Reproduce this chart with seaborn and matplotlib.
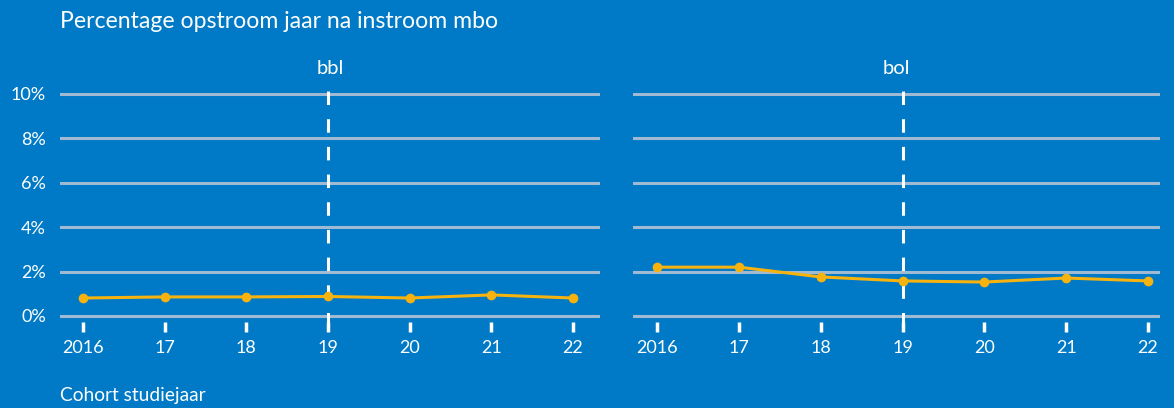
import matplotlib
matplotlib.use("Agg")
import matplotlib.pyplot as plt
import seaborn as sns
import pandas as pd

years = [2016, 2017, 2018, 2019, 2020, 2021, 2022]
year_labels = ["2016", "17", "18", "19", "20", "21", "22"]
bbl = [0.81, 0.86, 0.86, 0.88, 0.81, 0.95, 0.81]
bol = [2.20, 2.20, 1.76, 1.58, 1.53, 1.71, 1.58]
panels = ["bbl", "bol"]
yticks = [0, 2, 4, 6, 8, 10]
ytick_labels = ["0%", "2%", "4%", "6%", "8%", "10%"]
marker_year = 2019

BG = "#007AC6"
LINE = "#F6B20F"
GRID = "#A0BAD3"
FONT = "Lato"

sns.set_theme(style="white")
plt.rcParams["font.family"] = [FONT, "DejaVu Sans"]

W, H = 1174, 408
fig = plt.figure(figsize=(W / 100, H / 100), dpi=100, facecolor=BG)

def px_axes(x0, x1, y_top, y_bot):
    return [x0 / W, 1 - y_bot / H, (x1 - x0) / W, (y_bot - y_top) / H]

ppu = (316 - 94) / 10.0
ybot = -(322 - 316) / ppu
ytop = 10 + 1.5 / ppu
dash_lo = (316 - 326) / ppu
dash_hi = (316 - 90.7) / ppu

specs = [
    (bbl, px_axes(60, 600, 94 - 1.5, 322), 2016 - 23 / 81.67, 2022 + 27 / 81.67),
    (bol, px_axes(633, 1160, 94 - 1.5, 322), 2016 - 24 / 81.83, 2022 + 12 / 81.83),
]

for i, (vals, rect, xl, xr) in enumerate(specs):
    ax = fig.add_axes(rect)
    ax.set_facecolor(BG)
    df = pd.DataFrame({"jaar": years, "pct": vals})
    for yv in yticks:
        ax.axhline(yv, color=GRID, lw=2.2, zorder=1)
    ax.plot([marker_year, marker_year], [dash_lo, dash_hi], color="white",
            lw=2.2, ls=(0, (4.42, 4.64)), zorder=2, clip_on=False,
            solid_capstyle="butt", dash_capstyle="butt")
    sns.lineplot(data=df, x="jaar", y="pct", ax=ax, color=LINE, lw=2.2,
                 marker="o", markersize=7, markeredgewidth=0, zorder=3)
    ax.set_xlim(xl, xr)
    ax.set_ylim(ybot, ytop)
    for s in ax.spines.values():
        s.set_visible(False)
    ax.set_xticks(years)
    ax.set_xticklabels(year_labels)
    ax.tick_params(axis="x", colors="white", length=7, width=2.5, pad=6,
                   labelsize=13, direction="out", bottom=True)
    ax.set_yticks(yticks)
    if i == 0:
        ax.set_yticklabels(ytick_labels)
        ax.tick_params(axis="y", colors="white", length=0, pad=10, labelsize=13)
    else:
        ax.set_yticklabels([])
        ax.tick_params(axis="y", length=0)
    for lab in ax.get_xticklabels() + ax.get_yticklabels():
        lab.set_color("white")
    ax.set_xlabel("")
    ax.set_ylabel("")
    ax.grid(False)
    ax.set_title(panels[i], color="white", fontsize=14.5, pad=13)

fig.text(60 / W, 1 - 22 / H, "Percentage opstroom jaar na instroom mbo",
         color="white", fontsize=16.6, ha="left", va="center")
fig.text(60 / W, 1 - 396 / H, "Cohort studiejaar", color="white",
         fontsize=13.8, ha="left", va="center")

fig.savefig("out.png", dpi=100, facecolor=BG)
